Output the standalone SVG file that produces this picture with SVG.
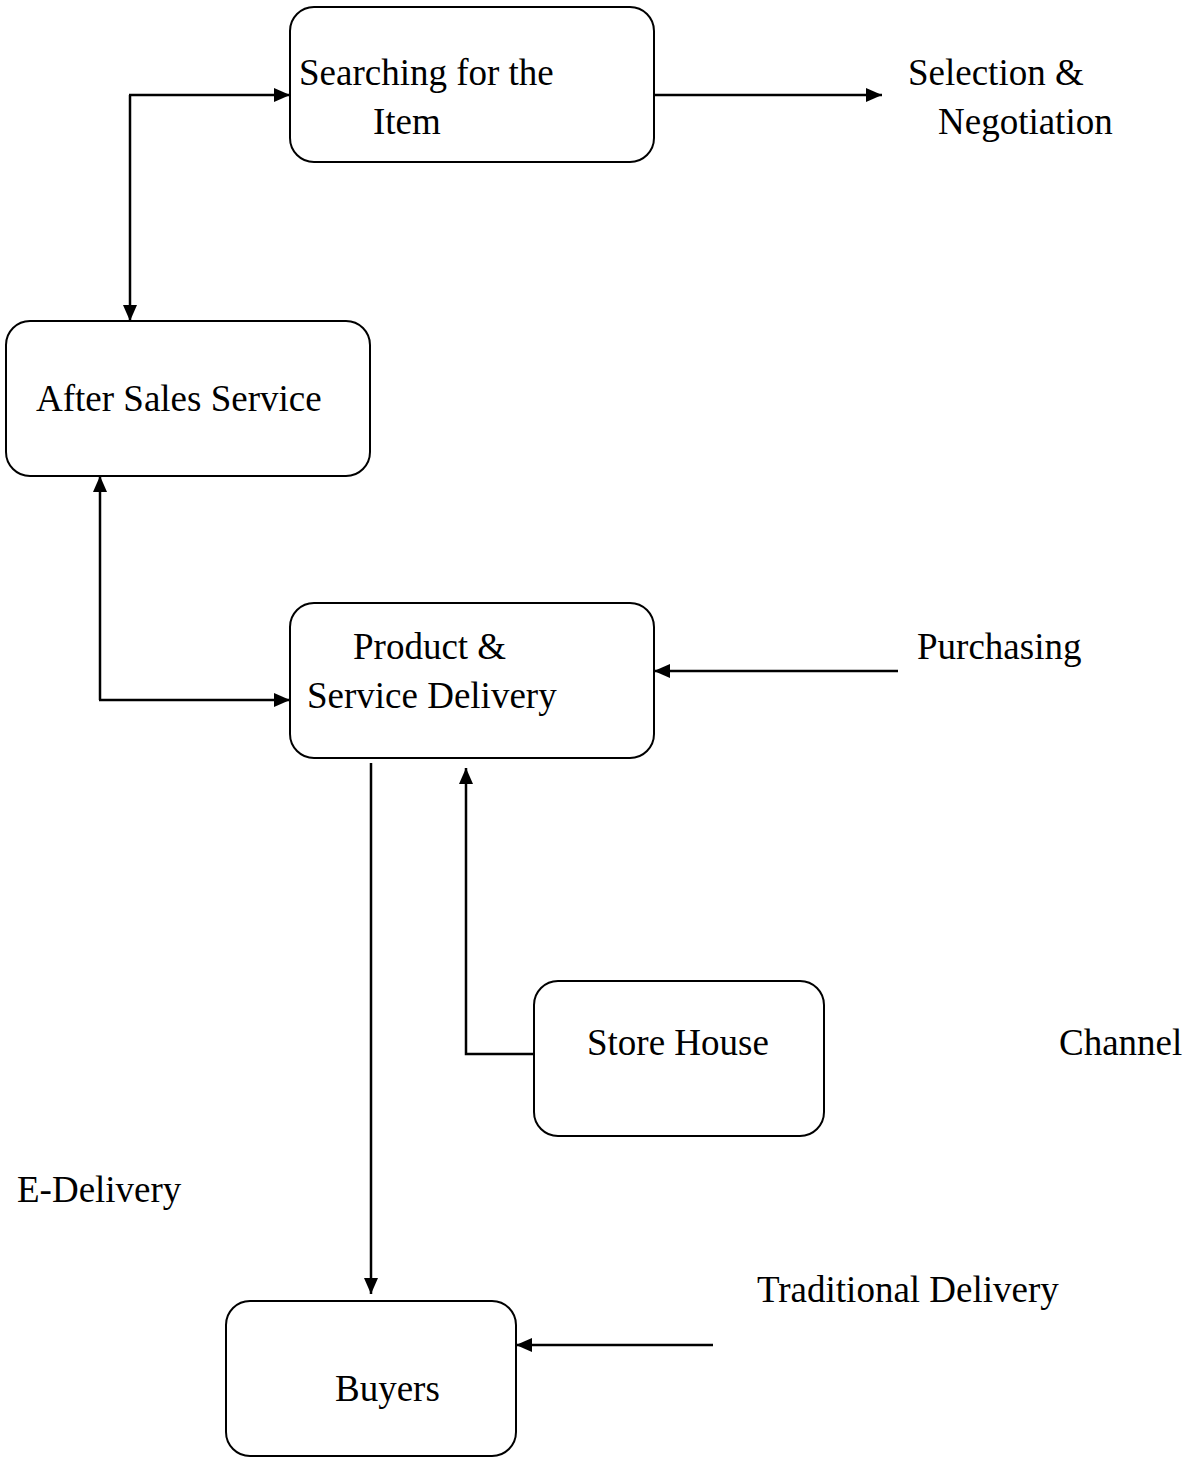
<svg xmlns="http://www.w3.org/2000/svg" width="1192" height="1458" viewBox="0 0 1192 1458">
<style>
.box{fill:#fff;stroke:#000;stroke-width:2}
.ln{fill:none;stroke:#000;stroke-width:2.5}
text{font-family:"Liberation Serif","Times New Roman",serif;font-size:37px;fill:#000}
</style>
<defs>
<marker id="ah" markerWidth="16" markerHeight="14" refX="16" refY="7" orient="auto" markerUnits="userSpaceOnUse">
<path d="M0,0 L16,7 L0,14 Z" fill="#000"/>
</marker>
</defs>
<rect width="1192" height="1458" fill="#fff"/>
<g id="connectors">
<line class="ln" x1="654" y1="95" x2="882" y2="95" marker-end="url(#ah)"/>
<line class="ln" x1="130" y1="95" x2="130" y2="321" marker-end="url(#ah)"/>
<line class="ln" x1="129" y1="95" x2="290" y2="95" marker-end="url(#ah)"/>
<line class="ln" x1="100" y1="700" x2="100" y2="476" marker-end="url(#ah)"/>
<line class="ln" x1="99" y1="700" x2="290" y2="700" marker-end="url(#ah)"/>
<line class="ln" x1="898" y1="671" x2="654" y2="671" marker-end="url(#ah)"/>
<line class="ln" x1="371" y1="763" x2="371" y2="1294" marker-end="url(#ah)"/>
<polyline class="ln" points="534,1054 466,1054 466,768" marker-end="url(#ah)"/>
<line class="ln" x1="713" y1="1345" x2="516" y2="1345" marker-end="url(#ah)"/>
</g>
<g id="searching">
<rect class="box" x="290" y="7" width="364" height="155" rx="24"/>
<text x="299" y="85">Searching for the</text>
<text x="373" y="134">Item</text>
</g>
<g id="selection">
<text x="908" y="85">Selection &amp;</text>
<text x="938" y="134">Negotiation</text>
</g>
<g id="after-sales">
<rect class="box" x="6" y="321" width="364" height="155" rx="24"/>
<text x="36" y="411">After Sales Service</text>
</g>
<g id="product">
<rect class="box" x="290" y="603" width="364" height="155" rx="24"/>
<text x="353" y="659">Product &amp;</text>
<text x="307" y="708">Service Delivery</text>
</g>
<g id="purchasing">
<text x="917" y="659">Purchasing</text>
</g>
<g id="store-house">
<rect class="box" x="534" y="981" width="290" height="155" rx="24"/>
<text x="587" y="1055">Store House</text>
</g>
<g id="channel">
<text x="1059" y="1055">Channel</text>
</g>
<g id="e-delivery">
<text x="17" y="1202">E-Delivery</text>
</g>
<g id="traditional">
<text x="757" y="1302">Traditional Delivery</text>
</g>
<g id="buyers">
<rect class="box" x="226" y="1301" width="290" height="155" rx="24"/>
<text x="335" y="1401">Buyers</text>
</g>
</svg>
